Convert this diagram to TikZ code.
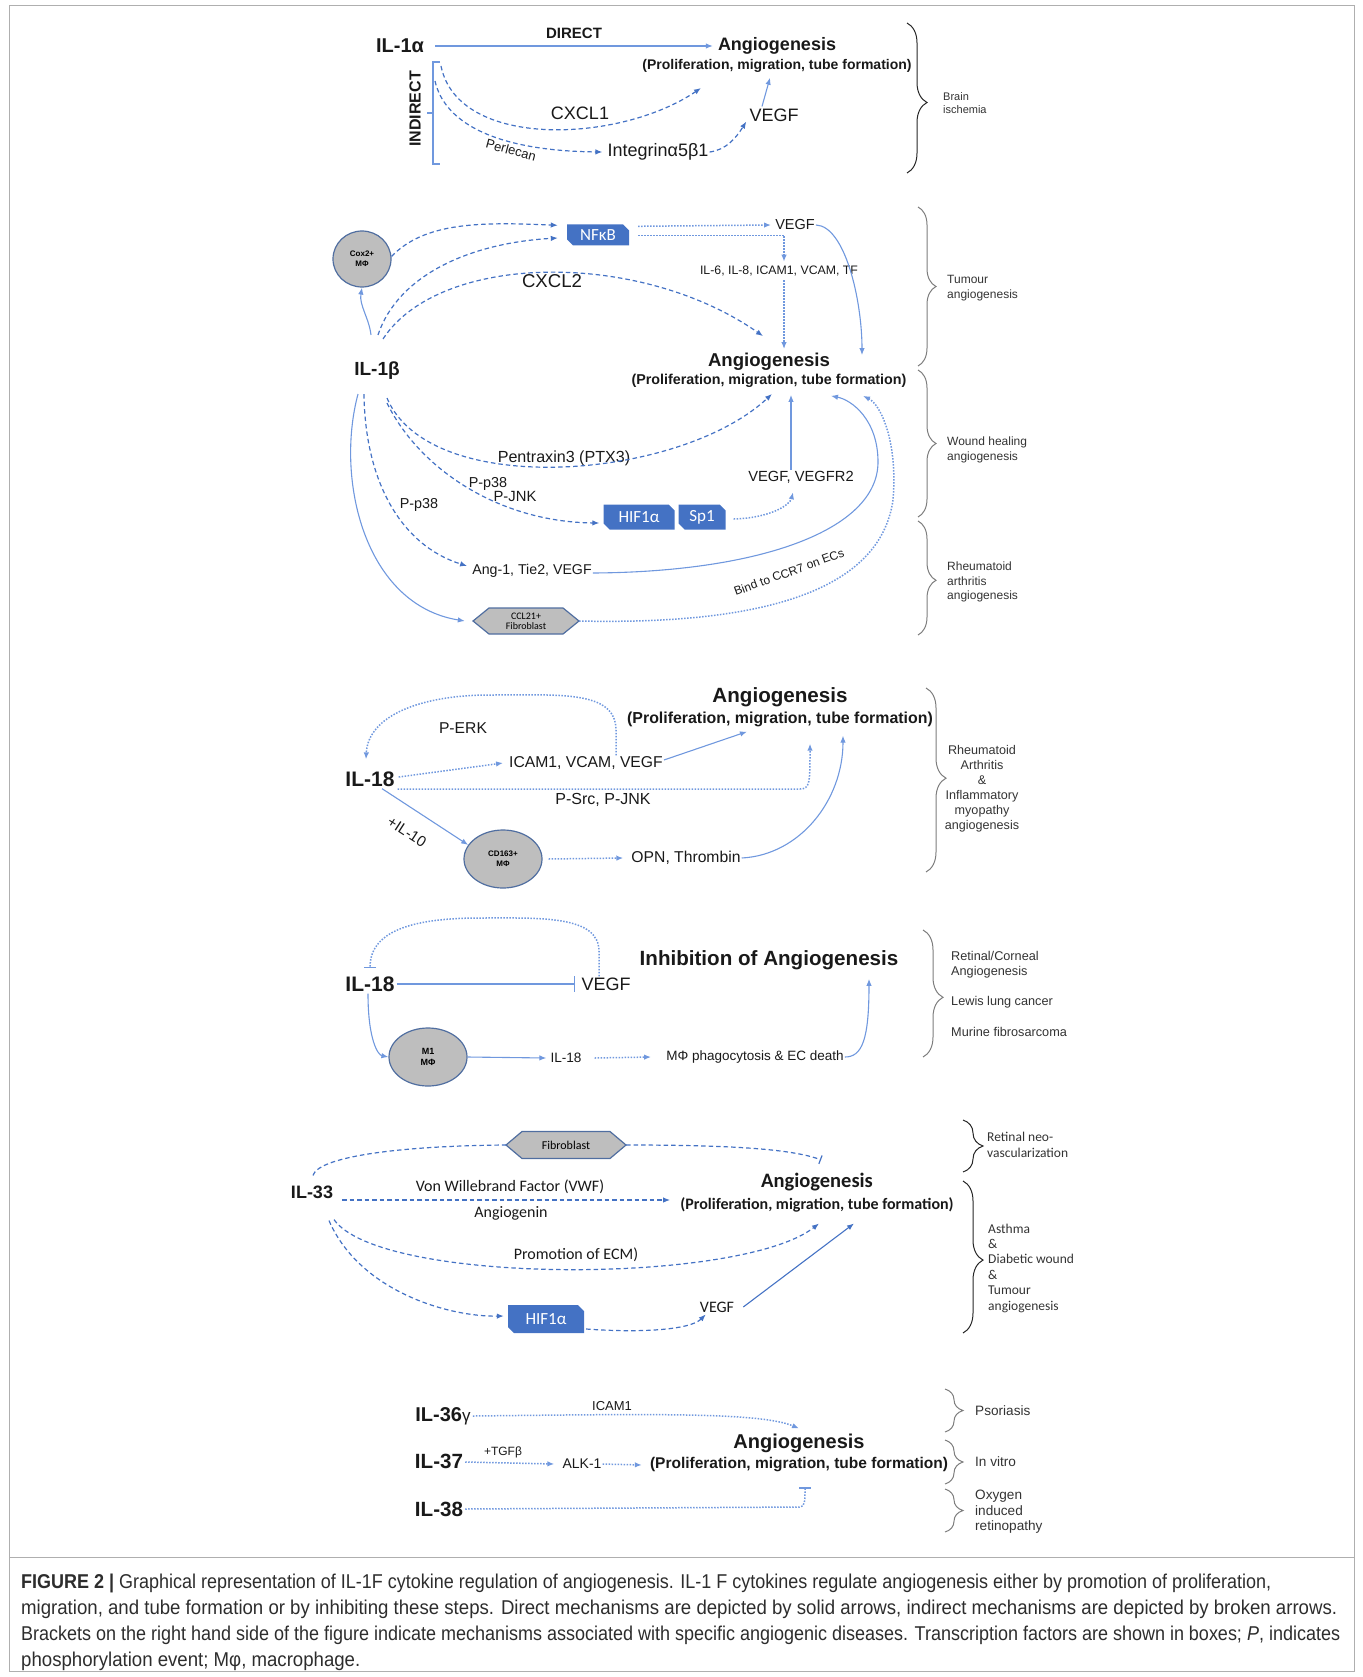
\documentclass[tikz,border=0pt]{standalone}
\usepackage{fontspec}
\usepackage{graphicx}
\setmainfont{Liberation Sans}
\newfontfamily\calib{Carlito}
\usetikzlibrary{arrows.meta,shapes.geometric,decorations.pathreplacing}
\definecolor{dblue}{RGB}{68,114,196}
\definecolor{lblue}{RGB}{112,152,222}
\definecolor{cellgray}{RGB}{190,190,190}
\definecolor{celledge}{RGB}{80,110,160}
\definecolor{brgray}{RGB}{125,125,125}
\definecolor{framegray}{RGB}{175,175,175}
\definecolor{captxt}{RGB}{45,45,45}
\newcommand\fz[2]{\fontsize{#1}{#2}\selectfont}
\newlength\capw
\newcommand\capfnt{\fz{20}{22}}
\newcommand\capA{\textbf{FIGURE 2 |} Graphical representation of IL-1F cytokine regulation of angiogenesis. IL-1 F cytokines regulate angiogenesis either by promotion of proliferation,}
\newcommand\capB{migration, and tube formation or by inhibiting these steps. Direct mechanisms are depicted by solid arrows, indirect mechanisms are depicted by broken arrows.}
\newcommand\capC{Brackets on the right hand side of the figure indicate mechanisms associated with specific angiogenic diseases. Transcription factors are shown in boxes; \textit{P}, indicates}
\newcommand\capD{phosphorylation event; Mφ, macrophage.}
\newcommand\snipbox[6]{%
  \fill[dblue] ({#2-#4/2},{#3-#5/2}) -- ({#2+#4/2-6},{#3-#5/2}) -- ({#2+#4/2},{#3-#5/2+6}) -- ({#2+#4/2},{#3+#5/2}) -- ({#2-#4/2+6},{#3+#5/2}) -- ({#2-#4/2},{#3+#5/2-6}) -- cycle;
  \node[tfnode, minimum width=#4pt, minimum height=#5pt] (#1) at (#2,#3) {#6};}
\newcommand\hexcell[8]{%
  \filldraw[fill=cellgray, draw=celledge, line width=1.2pt] ({#2-#4/2},#3) -- ({#2-#4/2+#6},{#3-#5/2}) -- ({#2+#4/2-#6},{#3-#5/2}) -- ({#2+#4/2},#3) -- ({#2+#4/2-#6},{#3+#5/2}) -- ({#2-#4/2+#6},{#3+#5/2}) -- cycle;
  \node[hexnode, font=\calib\fz{#7}{#7}, minimum width=#4pt, minimum height=#5pt] (#1) at (#2,#3) {#8};}
\tikzset{
  >={Latex[length=7pt,width=5.5pt]},
  lab/.style={inner sep=1pt, text=black!90},
  hb/.style={lab, font=\bfseries\fz{#1}{#1}},
  tx/.style={lab, font=\fz{#1}{#1}},
  cb/.style={lab, font=\calib\fz{#1}{#1}},
  cbb/.style={lab, font=\calib\bfseries\fz{#1}{#1}},
  side/.style={lab, anchor=west, align=left, text=black!80},
  dshl/.style={dblue, line width=1.2pt, dash pattern=on 4.5pt off 3pt},
  dotl/.style={lblue, line width=1.5pt, dash pattern=on 1.5pt off 1.5pt},
  soll/.style={lblue, line width=1.1pt},
  cell/.style={ellipse, draw=celledge, fill=cellgray, line width=1.2pt, inner sep=0pt, align=center, font=\bfseries\fz{8}{10}},
  tfnode/.style={inner sep=0pt, text=white, font=\calib\fz{17}{17}},
  hexnode/.style={inner sep=0pt, align=center},
  capn/.style={anchor=west, inner sep=0pt, text=captxt},
  brgr/.style={brgray, line width=1pt},
  brbk/.style={black!85, line width=1pt}
}
\begin{document}
\settowidth\capw{\capfnt\capA}\pgfmathsetmacro\scA{1250/\capw}%
\settowidth\capw{\capfnt\capB}\pgfmathsetmacro\scB{1316/\capw}%
\settowidth\capw{\capfnt\capC}\pgfmathsetmacro\scC{1319/\capw}%
\begin{tikzpicture}[x=1pt,y=-1pt]
\useasboundingbox (0,0) rectangle (1362,1677);
\draw[framegray, line width=1pt] (9,6) rectangle (1354,1671);
\draw[framegray, line width=1pt] (9,1557) -- (1354,1557);

% ---------------- Section 1: IL-1alpha
\node[hb=20] (il1a) at (400,46) {IL-1α};
\node[hb=15] (direct) at (574,33) {DIRECT};
\node[hb=18] (ang1) at (777,46) {Angiogenesis};
\node[hb=14] (ang1s) at (777,66) {(Proliferation, migration, tube formation)};
\node[hb=16, rotate=90] (indirect) at (415,109) {INDIRECT};
\node[tx=18] (cxcl1) at (580,113) {CXCL1};
\node[tx=18] (vegf1) at (774,115) {VEGF};
\node[tx=18] (integ) at (658,152) {Integrinα5β1};
\node[tx=13, rotate=-15] (perl) at (511,150) {Perlecan};
\node[side, font=\fz{11}{13.5}] (brain) at (942,103) {Brain\\ischemia};
\draw[soll,->] ([xshift=10pt]il1a.east) -- ([xshift=-4pt]ang1.west);
\draw[soll] (440,62) -- (433,62) -- (433,164) -- (440,164);
\draw[soll] (433,113) -- (427,113);
\coordinate (ind1) at (441,66);
\coordinate (ind2) at (435,81);
\coordinate (a1in) at (701,88);
\draw[dshl,->] (ind1) .. controls (458,150) and (620,143) .. (a1in);
\draw[dshl,->] (ind2) .. controls (445,125) and (500,151) .. ([xshift=-4pt]integ.west);
\draw[dshl,->] (integ.east) .. controls (726,150) and (736,138) .. ([xshift=-2pt,yshift=1pt]vegf1.south west);
\draw[soll,->] ([xshift=-12pt,yshift=1pt]vegf1.north) -- ([xshift=-7pt,yshift=-4pt]ang1s.south);
\draw[brbk, decorate, decoration={brace, amplitude=20pt, aspect=0.53}] (907,23) -- (907,173);

% ---------------- Section 2: IL-1beta
\node[cell, minimum width=58pt, minimum height=56pt] (cox) at (362,259) {Cox2+\\MΦ};
\snipbox{nfkb}{598}{235}{62}{21}{NFκB}
\node[tx=14.5] (vegf2) at (795,225) {VEGF};
\node[tx=12.3] (il6) at (779,271) {IL-6, IL-8, ICAM1, VCAM, TF};
\node[tx=18.6] (cxcl2) at (552,281) {CXCL2};
\node[hb=18.6] (ang2) at (769,362) {Angiogenesis};
\node[hb=14.3] (ang2s) at (769,381) {(Proliferation, migration, tube formation)};
\node[hb=19] (il1b) at (377,371) {IL-1β};
\draw[dshl,->] (cox.5) .. controls (425,222) and (480,222) .. ([xshift=-9pt,yshift=-1pt]nfkb.north west);
\draw[dshl,->] ([xshift=1pt,yshift=26pt]il1b.north) .. controls (398,275) and (470,243) .. ([xshift=-9pt,yshift=-3pt]nfkb.west);
\draw[dshl,->] ([xshift=6pt,yshift=22pt]il1b.north) .. controls (440,252) and (640,250) .. ([xshift=-6pt,yshift=16pt]ang2.north);
\draw[soll,->] ([xshift=-6pt,yshift=26pt]il1b.north) .. controls (369,318) and (359,305) .. (cox.south);
\draw[dotl,->] ([xshift=9pt,yshift=-2pt]nfkb.north east) -- ([xshift=-3pt]vegf2.west);
\draw[dotl,->] ([xshift=9pt,yshift=-11pt]nfkb.north east) -| ([xshift=5pt,yshift=3pt]il6.north);
\draw[dotl,->] ([xshift=5pt,yshift=-3pt]il6.south) -- ([xshift=15pt,yshift=3pt]ang2.north);
\draw[soll,->] (vegf2.east) .. controls (845,226) and (862,300) .. ([xshift=93pt,yshift=-3pt]ang2.north);

\node[tx=16.1] (ptx) at (564,458) {Pentraxin3 (PTX3)};
\node[tx=14.7] (vr2) at (801,477) {VEGF, VEGFR2};
\node[tx=14.4] (pp38a) at (488,484) {P-p38};
\node[tx=14.8] (pjnk) at (515,496) {P-JNK};
\snipbox{hif}{639}{517}{71}{25}{HIF1α}
\snipbox{sp1}{702}{517}{47}{25}{Sp1}
\node[tx=14.4] (pp38b) at (419,505) {P-p38};
\node[tx=14.2] (ang1t) at (532,571) {Ang-1, Tie2, VEGF};
\hexcell{ccl}{526}{621}{106}{26}{16}{10}{CCL21+\\Fibroblast}
\node[tx=12, rotate=20] (bind) at (789,572) {Bind to CCR7 on ECs};
\draw[dshl,->] ([xshift=10pt,yshift=-17pt]il1b.south) .. controls (430,500) and (680,480) .. ([xshift=3pt,yshift=-5pt]ang2s.south);
\draw[soll,->] ([xshift=-10pt]vr2.north) -- ([xshift=22pt,yshift=-6pt]ang2s.south);
\draw[dshl,->] ([xshift=10pt,yshift=-22pt]il1b.south) .. controls (420,470) and (500,522) .. ([xshift=-4pt,yshift=-6pt]hif.west);
\draw[dotl,->] ([xshift=8pt,yshift=-2pt]sp1.east) .. controls (770,518) and (790,505) .. ([xshift=-8pt,yshift=-8pt]vr2.south);
\draw[dshl,->] ([xshift=-13pt,yshift=-13pt]il1b.south) .. controls (365,480) and (400,545) .. ([xshift=-4pt,yshift=5pt]ang1t.west);
\draw[soll,->] ([yshift=-2pt]ang1t.east) .. controls (760,572) and (878,530) .. (878,462) .. controls (878,420) and (852,400) .. ([xshift=62pt,yshift=-7pt]ang2s.south);
\draw[soll,->] ([xshift=-19pt,yshift=-13pt]il1b.south) .. controls (335,480) and (365,605) .. ([xshift=-8pt]ccl.west);
\draw[dotl,->] (ccl.east) .. controls (760,625) and (880,592) .. (893,500) .. controls (898,440) and (880,404) .. ([xshift=94pt,yshift=-7pt]ang2s.south);
\draw[brgr, decorate, decoration={brace, amplitude=18pt, aspect=0.5}] (918,207) -- (918,366);
\draw[brgr, decorate, decoration={brace, amplitude=18pt, aspect=0.5}] (918,370) -- (918,517);
\draw[brgr, decorate, decoration={brace, amplitude=18pt, aspect=0.52}] (918,521) -- (918,635);
\node[side, font=\fz{12}{14.5}] (tum) at (946,288) {Tumour\\angiogenesis};
\node[side, font=\fz{12}{14.5}] (wnd) at (946,450) {Wound healing\\angiogenesis};
\node[side, font=\fz{12}{14.5}] (ra) at (946,582) {Rheumatoid\\arthritis\\angiogenesis};

% ---------------- Section 3: IL-18 promotion
\node[hb=20.6] (ang3) at (780,697) {Angiogenesis};
\node[hb=15.9] (ang3s) at (780,719) {(Proliferation, migration, tube formation)};
\node[hb=21] (il18a) at (370,779) {IL-18};
\node[tx=15.7] (icam) at (586,763) {ICAM1, VCAM, VEGF};
\node[tx=15.7] (perk) at (463,728) {P-ERK};
\node[tx=16] (psrc) at (603,800) {P-Src, P-JNK};
\node[tx=15, rotate=-33] (il10) at (407,832) {+IL-10};
\node[cell, minimum width=78pt, minimum height=58pt] (cd163) at (503,859) {CD163+\\MΦ};
\node[tx=15.7] (opn) at (686,858) {OPN, Thrombin};
\draw[dotl,->] ([xshift=3pt,yshift=2pt]il18a.east) -- ([xshift=-5pt]icam.west);
\draw[soll,->] ([yshift=3pt]icam.east) -- ([xshift=-33pt,yshift=-4pt]ang3s.south);
\draw[dotl,->] ([xshift=30pt]icam.north) -- ++(0,-25) .. controls (616,690) and (560,695) .. (490,695) .. controls (420,695) and (368,716) .. ([xshift=-4pt,yshift=11pt]il18a.north);
\draw[dotl,->] ([xshift=2pt,yshift=-10pt]il18a.east) -- (800,789) .. controls (810,789) and (810,782) .. ([xshift=30pt,yshift=-16pt]ang3s.south);
\draw[soll,->] ([xshift=12pt,yshift=-1pt]il18a.south) -- (cd163.158);
\draw[dotl,->] ([xshift=6pt]cd163.east) -- ([xshift=-7pt]opn.west);
\draw[soll,->] (opn.east) .. controls (800,855) and (843,800) .. ([xshift=63pt,yshift=-8pt]ang3s.south);
\draw[brgr, decorate, decoration={brace, amplitude=20pt, aspect=0.49}] (926,688) -- (926,872);
\node[lab, align=center, text=black!80, font=\fz{12.6}{15}] (rai) at (982,789) {Rheumatoid\\Arthritis\\\&\\Inflammatory\\myopathy\\angiogenesis};

% ---------------- Section 4: IL-18 inhibition
\node[hb=20.6] (inhib) at (769,960) {Inhibition of Angiogenesis};
\node[hb=21] (il18b) at (370,984) {IL-18};
\node[tx=18] (vegf4) at (606,984) {VEGF};
\draw[soll, -{Bar[width=16pt]}] ([xshift=1pt]il18b.east) -- ([xshift=-5pt]vegf4.west);
\draw[dotl, -{Bar[width=12pt]}] ([xshift=-7pt]vegf4.north) -- ++(0,-25) .. controls (599,915) and (540,918) .. (480,918) .. controls (410,918) and (370,932) .. ([yshift=7pt]il18b.north);
\node[cell, minimum width=78pt, minimum height=58pt, font=\bfseries\fz{9}{11}] (m1) at (428,1057) {M1\\MΦ};
\draw[soll,->] ([xshift=-2pt,yshift=-1pt]il18b.south) .. controls (368,1040) and (378,1055) .. (m1.west);
\node[tx=13.6] (il18s) at (566,1058) {IL-18};
\node[tx=13.5] (mphi) at (755,1057) {MΦ phagocytosis \& EC death};
\draw[soll,->] (m1.east) -- ([xshift=-3pt]il18s.west);
\draw[dotl,->] ([xshift=12pt]il18s.east) -- ([xshift=-14pt]mphi.west);
\draw[soll,->] (mphi.east) .. controls (862,1057) and (869,1040) .. ([xshift=100pt,yshift=-8pt]inhib.south);
\draw[brgr, decorate, decoration={brace, amplitude=20pt, aspect=0.53}] (923,930) -- (923,1057);
\node[side, font=\fz{12.7}{15}] (retc) at (950,965) {Retinal/Corneal\\Angiogenesis};
\node[side, font=\fz{12.7}{15}] (lewis) at (950,1002) {Lewis lung cancer};
\node[side, font=\fz{12.7}{15}] (murine) at (950,1032) {Murine fibrosarcoma};

% ---------------- Section 5: IL-33
\hexcell{fib}{566}{1145}{120}{27}{16}{12}{Fibroblast}
\node[hb=18] (il33) at (312,1192) {IL-33};
\node[cb=16] (vwf) at (510,1187) {Von Willebrand Factor (VWF)};
\node[cb=16] (angn) at (511,1213) {Angiogenin};
\node[cbb=20.5] (ang5) at (817,1182) {Angiogenesis};
\node[cbb=16] (ang5s) at (817,1205) {(Proliferation, migration, tube formation)};
\node[cb=16] (ecm) at (576,1255) {Promotion of ECM)};
\snipbox{hif5}{546}{1319}{76}{28}{HIF1α}
\node[cb=16] (vegf5) at (717,1307) {VEGF};
\draw[dshl] ([xshift=1pt,yshift=9pt]il33.north) .. controls (318,1158) and (390,1146) .. (fib.west);
\draw[dshl, -{Bar[width=9pt]}] (fib.east) .. controls (720,1145) and (790,1148) .. ([xshift=4pt,yshift=12pt]ang5.north);
\draw[dshl,->] ([xshift=8pt,yshift=-8pt]il33.east) -- ([xshift=-9pt,yshift=5pt]ang5s.west);
\draw[dshl,->] ([xshift=22pt,yshift=-20pt]il33.south) .. controls (380,1285) and (740,1285) .. ([xshift=2pt,yshift=-10pt]ang5s.south);
\draw[dshl,->] ([xshift=17pt,yshift=-21pt]il33.south) .. controls (360,1292) and (450,1317) .. ([xshift=-4pt,yshift=3pt]hif5.west);
\draw[dshl,->] ([xshift=2pt,yshift=-10pt]hif5.east) .. controls (640,1333) and (690,1330) .. ([xshift=7pt,yshift=-1pt]vegf5.south west);
\draw[dblue, line width=1.1pt,->] ([xshift=8pt]vegf5.east) -- ([xshift=37pt,yshift=-10pt]ang5s.south);
\draw[brbk, decorate, decoration={brace, amplitude=20pt, aspect=0.5}] (963,1120) -- (963,1172);
\draw[brbk, decorate, decoration={brace, amplitude=20pt, aspect=0.52}] (963,1181) -- (963,1333);
\node[side, font=\calib\fz{13.5}{15.5}] (retneo) at (986,1145) {Retinal neo-\\vascularization};
\node[side, font=\calib\fz{13.5}{15.4}] (asth) at (987,1268) {Asthma\\\&\\Diabetic wound\\\&\\Tumour\\angiogenesis};

% ---------------- Section 6: IL-36, 37, 38
\node[hb=20] (il36) at (443,1416) {IL-36{\mdseries\fz{17}{17}γ}};
\node[tx=13] (icam6) at (612,1406) {ICAM1};
\node[hb=20.6] (il37) at (439,1461) {IL-37};
\node[tx=12] (tgfb) at (503,1452) {+TGFβ};
\node[tx=14] (alk) at (582,1464) {ALK-1};
\node[hb=20] (ang6) at (799,1443) {Angiogenesis};
\node[hb=15.5] (ang6s) at (799,1465) {(Proliferation, migration, tube formation)};
\node[hb=20.6] (il38) at (439,1509) {IL-38};
\draw[dotl,->] ([xshift=1pt]il36.east) .. controls (650,1414) and (760,1412) .. ([yshift=4pt]ang6.north);
\draw[dotl,->] ([xshift=1pt,yshift=-1pt]il37.east) -- ([xshift=-7pt]alk.west);
\draw[dotl,->] (alk.east) -- ([xshift=-7pt]ang6s.west);
\draw[dotl, -{Bar[width=12pt]}] ([xshift=1pt]il38.east) -- (800,1507) .. controls (805,1507) and (805,1500) .. ([xshift=6pt,yshift=-14pt]ang6s.south);
\draw[brgr, decorate, decoration={brace, amplitude=18pt, aspect=0.5}] (945,1389) -- (945,1432);
\draw[brgr, decorate, decoration={brace, amplitude=18pt, aspect=0.5}] (945,1440) -- (945,1484);
\draw[brgr, decorate, decoration={brace, amplitude=18pt, aspect=0.5}] (945,1489) -- (945,1532);
\node[side, font=\fz{13.6}{15.5}] (psor) at (974,1411) {Psoriasis};
\node[side, font=\fz{13.6}{15.5}] (invit) at (974,1462) {In vitro};
\node[side, font=\fz{13.6}{15.5}] (oxy) at (974,1512) {Oxygen\\induced\\retinopathy};

% ---------------- Caption
\node[capn] (cap1) at (21,1583) {\scalebox{\scA}[1]{\capfnt\capA}};
\node[capn] (cap2) at (21,1609) {\scalebox{\scB}[1]{\capfnt\capB}};
\node[capn] (cap3) at (21,1635) {\scalebox{\scC}[1]{\capfnt\capC}};
\node[capn] (cap4) at (21,1661) {\scalebox{\scB}[1]{\capfnt\capD}};
\end{tikzpicture}
\end{document}
